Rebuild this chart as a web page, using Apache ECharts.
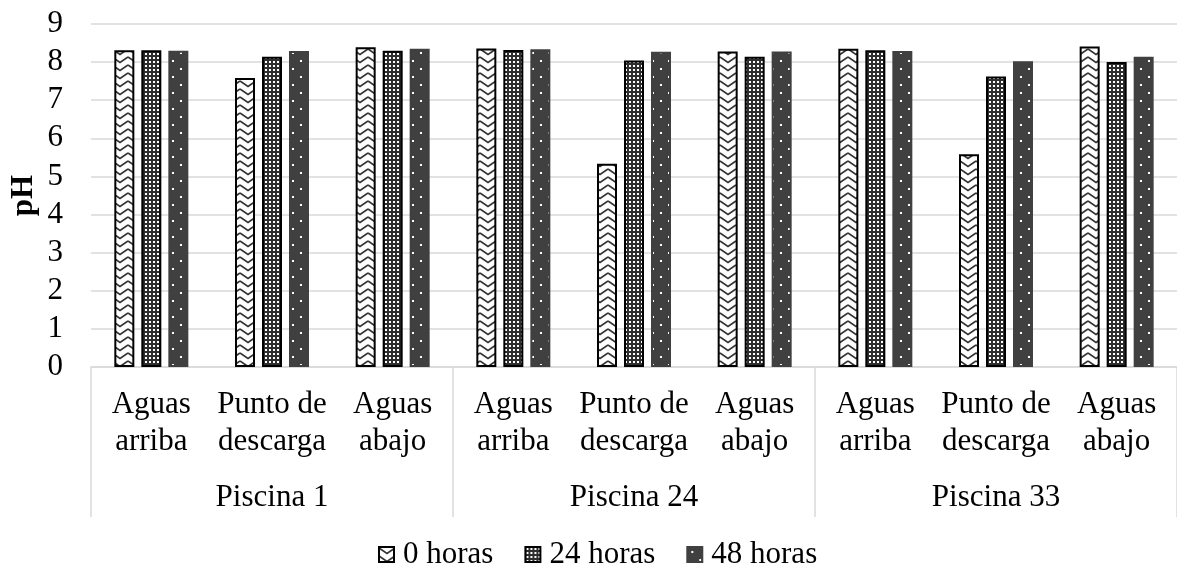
<!DOCTYPE html>
<html>
<head>
<meta charset="utf-8">
<script src="https://cdn.jsdelivr.net/npm/echarts@6/dist/echarts.min.js"></script>
<style>
html,body{margin:0;padding:0;background:#fff;}
#chart{width:1177px;height:569px;}
</style>
</head>
<body>
<div id="chart"></div>
<script>
// ---- data ----
const categories = ['Aguas\narriba','Punto de\ndescarga','Aguas\nabajo',
                    'Aguas\narriba','Punto de\ndescarga','Aguas\nabajo',
                    'Aguas\narriba','Punto de\ndescarga','Aguas\nabajo'];
const groups = ['Piscina 1','Piscina 24','Piscina 33'];
const seriesNames = ['0 horas','24 horas','48 horas'];
const h0  = [8.31, 7.58, 8.39, 8.36, 5.33, 8.28, 8.35, 5.58, 8.41];
const h24 = [8.31, 8.14, 8.30, 8.32, 8.04, 8.14, 8.31, 7.62, 8.00];
const h48 = [8.30, 8.29, 8.35, 8.34, 8.27, 8.28, 8.29, 8.02, 8.14];
const yTicks = [0,1,2,3,4,5,6,7,8,9];

// ---- patterns ----
function mk(w,h,draw){const c=document.createElement('canvas');c.width=w;c.height=h;draw(c.getContext('2d'));return c;}
const zig = mk(16,8,function(g){
  g.fillStyle='#fff';g.fillRect(0,0,16,8);
  g.strokeStyle='#333';g.lineWidth=1.6;
  g.beginPath();g.moveTo(0,1);g.lineTo(8,6.5);g.lineTo(16,1);g.stroke();
});
const grid = mk(4,4,function(g){
  g.fillStyle='#2e2e2e';g.fillRect(0,0,4,4);
  g.fillStyle='#fff';g.fillRect(1,1,2,2);
});
const dots = mk(16,16,function(g){
  g.fillStyle='#404040';g.fillRect(0,0,16,16);
  g.fillStyle='#fff';g.fillRect(4,4,2,2);g.fillRect(12,12,2,2);
});

const FONT = '"Liberation Serif","Times New Roman",serif';
const FS = 31;

const chart = echarts.init(document.getElementById('chart'), null, {renderer:'canvas'});
const fills = [zig, grid, dots];
const borders = ['#000','#000','#404040'];
const vals = [h0, h24, h48];

chart.setOption({
  animation:false,
  backgroundColor:'#fff',
  textStyle:{fontFamily:FONT},
  grid:{left:91,right:-12,top:24,bottom:202,containLabel:false},
  legend:{
    data:seriesNames,
    left:373, top:534,
    itemWidth:15,itemHeight:15,itemGap:31,icon:'rect',
    textStyle:{fontFamily:FONT,fontSize:FS,color:'#000',padding:[0,0,0,4]}
  },
  xAxis:[{
    type:'category',data:categories,position:'bottom',
    axisLine:{show:true,lineStyle:{color:'#d9d9d9',width:1.5}},
    axisTick:{show:false},
    axisLabel:{interval:0,margin:19,fontFamily:FONT,fontSize:FS,lineHeight:37,color:'#000',align:'center'}
  },{
    type:'category',data:groups,position:'bottom',
    axisLine:{show:false},
    axisTick:{show:true,length:150,interval:0,alignWithLabel:false,lineStyle:{color:'#d9d9d9',width:1.5}},
    axisLabel:{interval:0,margin:112,fontFamily:FONT,fontSize:FS,lineHeight:37,color:'#000'}
  }],
  yAxis:{
    type:'value',min:yTicks[0],max:yTicks[yTicks.length-1],interval:1,
    name:'pH',nameLocation:'middle',nameGap:52,nameMoveOverlap:false,
    nameTextStyle:{fontFamily:FONT,fontSize:FS,fontWeight:'bold',color:'#000'},
    axisLine:{show:false},axisTick:{show:false},
    axisLabel:{margin:28,fontFamily:FONT,fontSize:FS,color:'#000'},
    splitLine:{show:true,lineStyle:{color:'#d9d9d9',width:1.5}}
  },
  series:seriesNames.map(function(n,i){
    return {
      name:n,type:'bar',xAxisIndex:0,data:vals[i],
      barWidth:20,barGap:'35%',
      itemStyle:{color:{image:fills[i],repeat:'repeat'},borderColor:borders[i],borderWidth:2}
    };
  })
});
</script>
</body>
</html>
